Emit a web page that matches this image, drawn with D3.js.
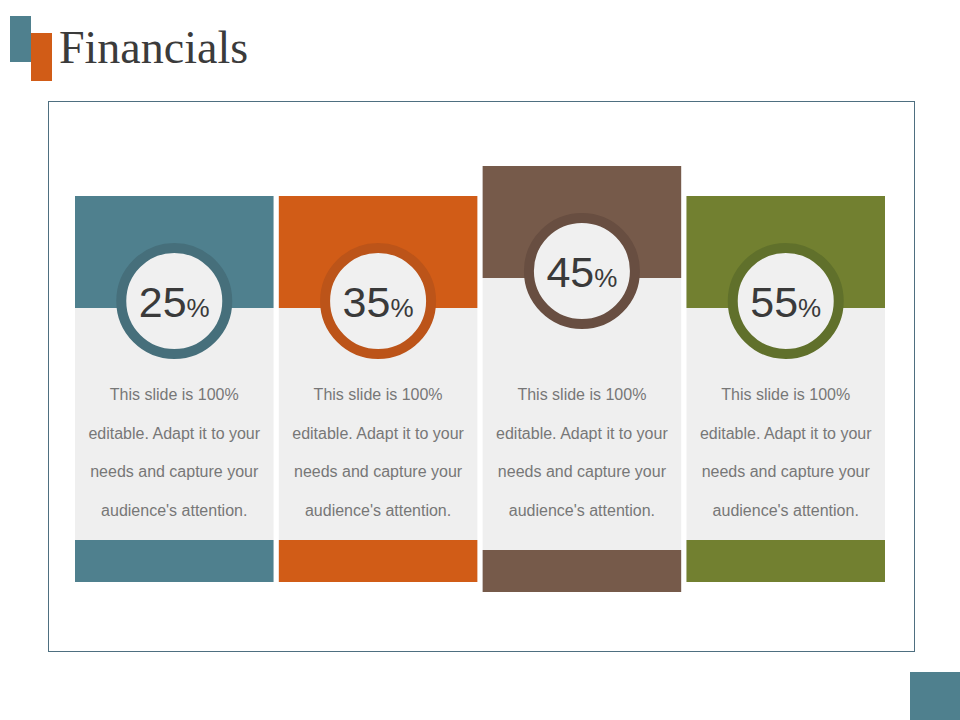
<!DOCTYPE html>
<html>
<head>
<meta charset="utf-8">
<script src="https://cdn.jsdelivr.net/npm/d3@7"></script>
<style>
    body{ margin:0; background:#fff; }
    svg{ display:block; }
</style>
</head>
<body>
<div id="chart"></div>
<script>
var values = [25, 35, 45, 55];
var fills = ["#4f808e", "#d15c17", "#765a4a", "#728030"];
var rings = ["#466f7b", "#bc5419", "#684e41", "#60702b"];
var bodyLines = [
    "This slide is 100%",
    "editable. Adapt it to your",
    "needs and capture your",
    "audience's attention."
];
var featured = 45;

var W = 960, H = 720;

var svg = d3.select("#chart").append("svg")
    .attr("width", W)
    .attr("height", H);

// title block
svg.append("rect").attr("x", 10).attr("y", 16).attr("width", 21).attr("height", 46).style("fill", "#4f808e");
svg.append("rect").attr("x", 31).attr("y", 33).attr("width", 21).attr("height", 48).style("fill", "#d15c17");
svg.append("text")
    .attr("x", 59)
    .attr("y", 63)
    .style("font-family", "'Liberation Serif', 'DejaVu Serif', serif")
    .style("font-size", "46px")
    .style("fill", "#3b3b3b")
    .text("Financials");

// frame + corner square
svg.append("rect")
    .attr("x", 48.5).attr("y", 101.5)
    .attr("width", 866).attr("height", 550)
    .style("fill", "none")
    .style("stroke", "#4e6f80")
    .style("stroke-width", 1);
svg.append("rect").attr("x", 910).attr("y", 672).attr("width", 50).attr("height", 48).style("fill", "#4f808e");

var x = d3.scaleBand()
    .domain(values)
    .range([75, 885])
    .paddingInner(0.026);

var cards = svg.selectAll(".card")
    .data(values)
    .enter()
    .append("g")
    .attr("class", "card")
    .attr("transform", function(d){
        return "translate(" + [x(d), 0] + ")";
    });

cards.each(function(d, i){
    var g = d3.select(this);
    var bw = x.bandwidth();
    var top = (d == featured) ? 166 : 196;
    var bottom = (d == featured) ? 592 : 582;
    var head = 112;

    g.append("rect")
        .attr("y", top)
        .attr("width", bw)
        .attr("height", bottom - top)
        .style("fill", "#efefef");
    g.append("rect")
        .attr("y", top)
        .attr("width", bw)
        .attr("height", head)
        .style("fill", fills[i]);
    g.append("rect")
        .attr("y", bottom - 42)
        .attr("width", bw)
        .attr("height", 42)
        .style("fill", fills[i]);

    var cy = top + 105;
    g.append("circle")
        .attr("cx", bw / 2)
        .attr("cy", cy)
        .attr("r", 53)
        .style("fill", "#f0f0f0")
        .style("stroke", rings[i])
        .style("stroke-width", 10);

    var label = g.append("text")
        .attr("x", bw / 2)
        .attr("y", cy + 16)
        .attr("text-anchor", "middle")
        .style("font-family", "'Liberation Sans', Arial, sans-serif")
        .style("fill", "#3a3a3a");
    label.append("tspan").style("font-size", "43px").text(d);
    label.append("tspan").style("font-size", "26px").text("%");

    g.selectAll(".line")
        .data(bodyLines)
        .enter()
        .append("text")
        .attr("class", "line")
        .attr("x", bw / 2)
        .attr("y", function(t, j){ return 400 + j * 38.5; })
        .attr("text-anchor", "middle")
        .style("font-family", "'Liberation Sans', Arial, sans-serif")
        .style("font-size", "16px")
        .style("fill", "#777")
        .text(function(t){ return t; });
});
</script>
</body>
</html>
